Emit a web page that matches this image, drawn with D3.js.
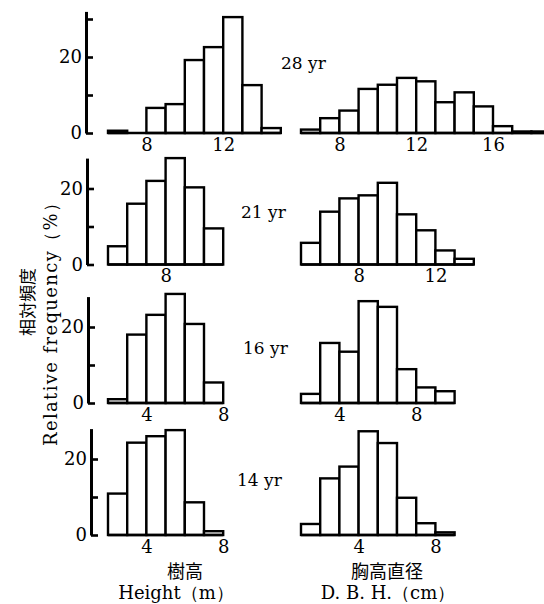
<!DOCTYPE html>
<html>
<head>
<meta charset="utf-8">
<script src="https://cdn.jsdelivr.net/npm/d3@7"></script>
<style>
  body { margin: 0; background: #fff; }
  svg text { font-family: "DejaVu Serif", serif; fill: #000; }
  .jp { font-family: "Noto Sans CJK JP", sans-serif; }
</style>
</head>
<body>
<div id="chart"></div>
<script>
// stand age of each row
const years = ["28 yr", "21 yr", "16 yr", "14 yr"];

// tree height (m): first bin start + relative frequency (%) per 1 m bin
const heightStart = [6, 5, 2, 2];
const heightFreq = [
  [0.6, 0, 6.6, 7.6, 19.2, 22.6, 30.5, 12.6, 1.3],
  [4.8, 16, 22, 28, 20.3, 9.5],
  [1.0, 18, 23.2, 28.7, 20.8, 5.4],
  [10.9, 24.3, 26, 27.6, 8.6, 1.0]
];
const heightTicks = [[8, 12], [8], [4, 8], [4, 8]];

// D.B.H. (cm): first bin start + relative frequency (%) per 1 cm bin
const dbhStart = [6, 5, 2, 1];
const dbhFreq = [
  [0.9, 3.9, 5.9, 11.6, 12.7, 14.5, 13.6, 8.1, 10.7, 7.0, 1.8, 0.4, 0.4],
  [5.7, 13.9, 17.4, 18.2, 21.5, 13.2, 9.0, 3.7, 1.5],
  [2.4, 15.8, 13.5, 26.8, 25.3, 8.9, 4.1, 3.1],
  [2.9, 14.9, 18, 27.3, 24.2, 9.8, 3.1, 0.7]
];
const dbhTicks = [[8, 12, 16], [8, 12], [4, 8], [4, 8]];

const yTicks = [0, 10, 20, 30];
const yTop = [32, 28, 28, 28];

// layout
const width = 544, height = 604;
const rowBase = [133, 264.5, 403, 535];
const axisX = [86, 87, 88, 91];
const pxPerUnit = 3.8;
const colLeft = [108, 301];
const binPx = 19.2;
const yearPos = [[281, 69], [241, 218], [243, 354], [237, 486]];

const svg = d3.select("#chart").append("svg")
  .attr("width", width)
  .attr("height", height);

svg.append("rect").attr("width", width).attr("height", height).attr("fill", "#fff");

function panel(start, freq, ticks, y, left){
  const g = svg.append("g");
  const x = d3.scaleLinear()
    .domain([start, start + 10])
    .range([left, left + binPx * 10]);

  const bins = freq.map((v, i) => ({x0: start + i, v: v}));

  g.selectAll("rect")
    .data(bins.filter(d => d.v > 0))
    .enter().append("rect")
    .attr("x", d => x(d.x0))
    .attr("width", d => x(d.x0 + 1) - x(d.x0))
    .attr("y", d => y(d.v))
    .attr("height", d => y(0) - y(d.v))
    .attr("fill", "#fff")
    .attr("stroke", "#000")
    .attr("stroke-width", 2.4);

  // baseline under the bars
  g.append("line")
    .attr("x1", x(start)).attr("x2", x(start + freq.length))
    .attr("y1", y(0)).attr("y2", y(0))
    .attr("stroke", "#000").attr("stroke-width", 2.6);

  const xAxis = d3.axisBottom(x)
    .tickValues(ticks)
    .tickSize(0)
    .tickPadding(5)
    .tickFormat(d3.format("d"));

  const ax = g.append("g")
    .attr("transform", "translate(0," + y(0) + ")")
    .call(xAxis);
  ax.select(".domain").remove();
  ax.selectAll("text").style("font-size", "18px").style("font-family", "DejaVu Serif, serif");
}

years.forEach((yr, r) => {
  const y = d3.scaleLinear()
    .domain([0, yTop[r]])
    .range([rowBase[r], rowBase[r] - yTop[r] * pxPerUnit]);

  // y axis on the left column only
  const yAxis = d3.axisLeft(y)
    .tickValues(yTicks.filter(t => t <= yTop[r]))
    .tickSizeInner(-7)
    .tickSizeOuter(0)
    .tickPadding(4)
    .tickFormat(d => (d === 0 || d === 20) ? d : "");
  const ay = svg.append("g")
    .attr("transform", "translate(" + axisX[r] + ",0)")
    .call(yAxis);
  ay.select(".domain").attr("stroke-width", 3);
  ay.selectAll(".tick line").attr("stroke-width", 2.6);
  ay.selectAll("text").style("font-size", "18px").style("font-family", "DejaVu Serif, serif");

  panel(heightStart[r], heightFreq[r], heightTicks[r], y, colLeft[0]);
  panel(dbhStart[r], dbhFreq[r], dbhTicks[r], y, colLeft[1]);

  svg.append("text")
    .attr("x", yearPos[r][0])
    .attr("y", yearPos[r][1])
    .style("font-size", "17px")
    .text(yr);
});

// axis titles
svg.append("text").attr("class", "jp")
  .attr("x", 185).attr("y", 578)
  .attr("text-anchor", "middle")
  .style("font-size", "18px")
  .text("樹高");
svg.append("text")
  .attr("x", 176).attr("y", 599)
  .attr("text-anchor", "middle")
  .style("font-size", "18px")
  .text("Height（m）");

svg.append("text").attr("class", "jp")
  .attr("x", 387).attr("y", 578)
  .attr("text-anchor", "middle")
  .style("font-size", "18px")
  .text("胸高直径");
svg.append("text")
  .attr("x", 388).attr("y", 599)
  .attr("text-anchor", "middle")
  .style("font-size", "18px")
  .text("D. B. H.（cm）");

svg.append("text").attr("class", "jp")
  .attr("transform", "translate(34,302) rotate(-90)")
  .attr("text-anchor", "middle")
  .style("font-size", "17px")
  .text("相対頻度");
svg.append("text")
  .attr("transform", "translate(57,320) rotate(-90)")
  .attr("text-anchor", "middle")
  .attr("textLength", 252)
  .attr("lengthAdjust", "spacing")
  .style("font-size", "18px")
  .text("Relative frequency（%）");
</script>
</body>
</html>
